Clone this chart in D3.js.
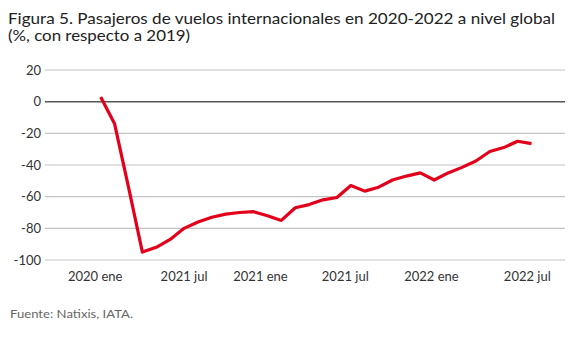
<!DOCTYPE html>
<html>
<head>
<meta charset="utf-8">
<script src="https://cdn.jsdelivr.net/npm/d3@7"></script>
<style>
  body { margin: 0; background: #fff; }
  svg { display: block; font-family: "Lato", "Open Sans", sans-serif; }
</style>
</head>
<body>
<svg id="chart" width="568" height="341"></svg>
<script>
// months from 2020 ene to 2022 ago, values in % vs 2019
let months = d3.range(32);
let values = [3, -14, -54, -95, -92, -87, -80, -76, -73, -71, -70, -69.5,
    -72, -75, -67, -65, -62, -60.5, -53, -56.5, -54, -49.5, -47, -45,
    -49.5, -45, -41.5, -37.5, -31.5, -29, -25, -26.5];

let yTicks = [20, 0, -20, -40, -60, -80, -100];
// labels as printed in the source figure
let xLabels = ['2020 ene', '2021 jul', '2021 ene', '2021 jul', '2022 ene', '2022 jul'];
let xLabelPos = [-0.4, 6, 11.5, 17.6, 23.8, 30.7];

let svg = d3.select('#chart');

let x = d3.scaleLinear().domain([0, 31]).range([100.7, 531.5]);
let y = d3.scaleLinear().domain([-100, 20]).range([260, 70]);

let gridLeft = 45;
let gridRight = 565;

// title
svg.append('text')
    .attr('x', 8)
    .attr('y', 23.5)
    .attr('font-size', '16px')
    .attr('fill', '#222')
    .attr('textLength', 547)
    .attr('lengthAdjust', 'spacingAndGlyphs')
    .text('Figura 5. Pasajeros de vuelos internacionales en 2020-2022 a nivel global');

svg.append('text')
    .attr('x', 8)
    .attr('y', 41)
    .attr('font-size', '16px')
    .attr('fill', '#222')
    .attr('textLength', 182)
    .attr('lengthAdjust', 'spacingAndGlyphs')
    .text('(%, con respecto a 2019)');

// grid lines
svg.append('g')
    .selectAll('line')
    .data(yTicks)
    .join('line')
    .attr('x1', gridLeft)
    .attr('x2', gridRight)
    .attr('y1', d => y(d))
    .attr('y2', d => y(d))
    .attr('stroke', d => d == 0 ? '#555' : '#c4c4c4')
    .attr('stroke-width', d => d == 0 ? 1.5 : 1.2);

// y labels
svg.append('g')
    .selectAll('text')
    .data(yTicks)
    .join('text')
    .attr('x', 41)
    .attr('y', d => y(d) + 4.5)
    .attr('text-anchor', 'end')
    .attr('font-size', '13px')
    .attr('fill', '#333')
    .text(d => d);

// x labels
svg.append('g')
    .selectAll('text')
    .data(xLabels)
    .join('text')
    .attr('x', (d, i) => x(xLabelPos[i]))
    .attr('y', 281)
    .attr('text-anchor', 'middle')
    .attr('font-size', '13px')
    .attr('fill', '#333')
    .text(d => d);

// series
let line = d3.line()
    .x(d => x(d))
    .y((d, i) => y(values[i]));

svg.append('path')
    .datum(months)
    .attr('d', line)
    .attr('fill', 'none')
    .attr('stroke', '#e2001a')
    .attr('stroke-width', 3.2)
    .attr('stroke-linejoin', 'round');

// source
svg.append('text')
    .attr('x', 10)
    .attr('y', 318)
    .attr('font-size', '11.5px')
    .attr('fill', '#666')
    .attr('textLength', 123)
    .attr('lengthAdjust', 'spacingAndGlyphs')
    .text('Fuente: Natixis, IATA.');
</script>
</body>
</html>
